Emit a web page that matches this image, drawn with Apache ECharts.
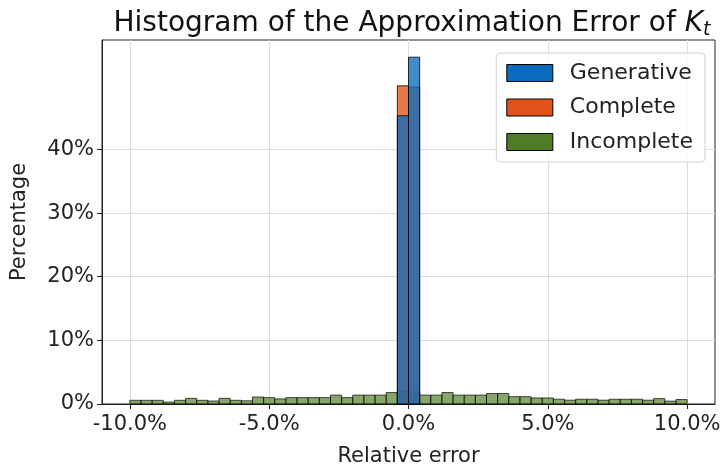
<!DOCTYPE html>
<html>
<head>
<meta charset="utf-8">
<script src="https://cdn.jsdelivr.net/npm/echarts@6/dist/echarts.min.js"></script>
<style>
  html, body { margin: 0; padding: 0; background: #fff; }
  #chart { width: 727px; height: 466px; }
</style>
</head>
<body>
<div id="chart"></div>
<script>
// Histogram bins: 50 bins of 0.4 percentage points spanning -10% .. 10%
const binWidth = 0.4;
const binStartFirst = -10;
const binCount = 50;

// Percentage of samples falling in each bin
const incomplete = [
  0.58, 0.58, 0.58, 0.30, 0.58, 0.89, 0.58, 0.47, 0.89, 0.58,
  0.50, 1.10, 1.00, 0.80, 1.00, 1.00, 1.00, 1.00, 1.40, 1.00,
  1.40, 1.40, 1.40, 1.80, 2.00, 1.90, 1.40, 1.40, 1.80, 1.40,
  1.40, 1.40, 1.65, 1.65, 1.15, 1.15, 0.95, 0.95, 0.75, 0.60,
  0.75, 0.75, 0.60, 0.75, 0.75, 0.75, 0.60, 0.85, 0.45, 0.70
];
const complete = new Array(binCount).fill(0);
complete[24] = 50.0;
complete[25] = 49.8;
const generative = new Array(binCount).fill(0);
generative[24] = 45.3;
generative[25] = 54.5;

const xTicks = [-10, -5, 0, 5, 10];
const yTicks = [0, 10, 20, 30, 40];

const colors = {
  Generative: '#0b6cbd',
  Complete: '#e0521a',
  Incomplete: '#4f7c24'
};
const fillOpacity = { Generative: 0.78, Complete: 0.78, Incomplete: 0.68 };

function toBins(values) {
  const out = [];
  values.forEach(function (v, i) {
    if (v > 0) {
      const x0 = binStartFirst + i * binWidth;
      out.push([x0, x0 + binWidth, v]);
    }
  });
  return out;
}

function histSeries(name, values, z) {
  const color = colors[name];
  const opacity = fillOpacity[name];
  return {
    name: name,
    type: 'custom',
    z: z,
    itemStyle: { color: color, borderColor: '#000', borderWidth: 1 },
    encode: { x: [0, 1], y: 2 },
    data: toBins(values),
    renderItem: function (params, api) {
      const topLeft = api.coord([api.value(0), api.value(2)]);
      const bottomRight = api.coord([api.value(1), 0]);
      return {
        type: 'rect',
        shape: {
          x: topLeft[0],
          y: topLeft[1],
          width: bottomRight[0] - topLeft[0],
          height: bottomRight[1] - topLeft[1]
        },
        style: { fill: color, stroke: '#000', lineWidth: 1, opacity: opacity }
      };
    }
  };
}

const font = 'DejaVu Sans';
const chart = echarts.init(document.getElementById('chart'), null, { renderer: 'canvas' });

chart.setOption({
  animation: false,
  backgroundColor: '#fff',
  textStyle: { fontFamily: font },
  title: {
    text: '{n|Histogram of the Approximation Error of }{k|K}{s|t}',
    left: 407,
    textAlign: 'center',
    top: 3,
    textStyle: {
      fontWeight: 'normal',
      rich: {
        n: { fontFamily: font, fontSize: 28, fontWeight: 'normal', color: '#111' },
        k: { fontFamily: font, fontSize: 28, fontWeight: 'normal', fontStyle: 'italic', color: '#111' },
        s: { fontFamily: font, fontSize: 19, fontWeight: 'normal', fontStyle: 'italic', color: '#111', padding: [13, 0, 0, 0] }
      }
    }
  },
  legend: {
    orient: 'vertical',
    right: 22,
    top: 53,
    padding: [9, 12, 9, 10],
    itemWidth: 46,
    itemHeight: 17,
    itemGap: 12.5,
    backgroundColor: 'rgba(255,255,255,0.85)',
    borderColor: '#d0d0d0',
    borderWidth: 1,
    borderRadius: 4,
    icon: 'rect',
    textStyle: { fontFamily: font, fontSize: 22, lineHeight: 22, color: '#222', padding: [0, 0, 0, 12] },
    data: [
      { name: 'Generative', itemStyle: { color: colors.Generative, borderColor: '#000', borderWidth: 1 } },
      { name: 'Complete', itemStyle: { color: colors.Complete, borderColor: '#000', borderWidth: 1 } },
      { name: 'Incomplete', itemStyle: { color: colors.Incomplete, borderColor: '#000', borderWidth: 1 } }
    ]
  },
  grid: {
    left: 102, top: 40, width: 613, height: 364,
    outerBoundsMode: 'none',
    containLabel: false,
    show: true, borderColor: '#222', borderWidth: 1, backgroundColor: 'transparent'
  },
  xAxis: {
    type: 'value',
    min: -11,
    max: 11,
    name: 'Relative error',
    nameLocation: 'middle',
    nameGap: 42,
    nameTextStyle: { fontFamily: font, fontSize: 21, color: '#222' },
    axisLine: { show: true, onZero: false, lineStyle: { color: '#222' } },
    axisTick: { show: true, customValues: xTicks, length: 5, lineStyle: { color: '#222' } },
    axisLabel: {
      customValues: xTicks,
      fontFamily: font, fontSize: 21, color: '#222', margin: 10,
      formatter: function (v) { return v.toFixed(1) + '%'; }
    },
    splitLine: { show: true, lineStyle: { color: '#dcdcdc', width: 1 } }
  },
  yAxis: {
    type: 'value',
    min: 0,
    max: 57.2,
    name: 'Percentage',
    nameLocation: 'middle',
    nameGap: 72,
    nameTextStyle: { fontFamily: font, fontSize: 21, color: '#222' },
    axisLine: { show: true, onZero: false, lineStyle: { color: '#222' } },
    axisTick: { show: true, customValues: yTicks, length: 5, lineStyle: { color: '#222' } },
    axisLabel: {
      customValues: yTicks,
      fontFamily: font, fontSize: 21, color: '#222', margin: 8,
      formatter: function (v) { return v + '%'; }
    },
    splitLine: { show: true, lineStyle: { color: '#dcdcdc', width: 1 } }
  },
  series: [
    histSeries('Incomplete', incomplete, 2),
    histSeries('Complete', complete, 3),
    histSeries('Generative', generative, 4)
  ]
});
</script>
</body>
</html>
